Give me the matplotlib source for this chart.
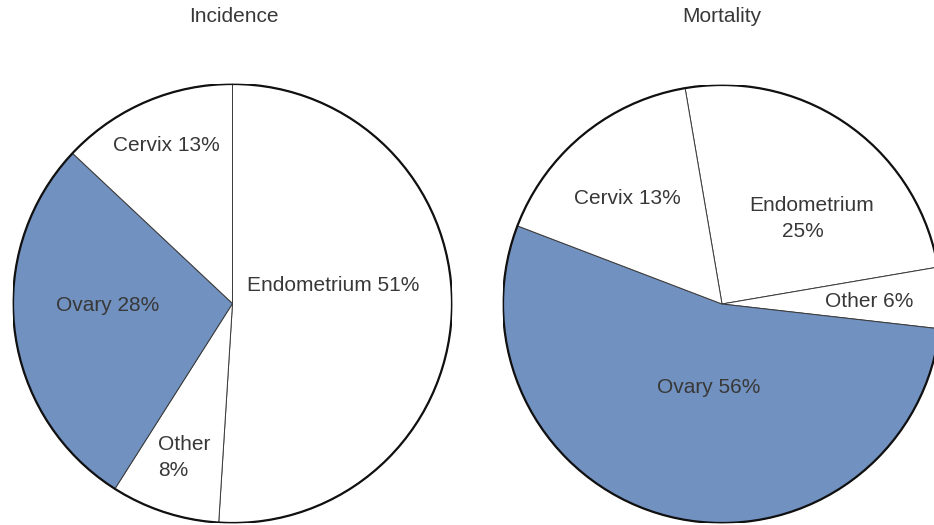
import matplotlib
matplotlib.use('Agg')
import matplotlib.pyplot as plt
from matplotlib.patches import Circle

# slice order: Endometrium, Other, Ovary, Cervix (clockwise from the first boundary)
inc_names = ['Endometrium', 'Other', 'Ovary', 'Cervix']
inc_pct = [51, 8, 28, 13]

mort_names = ['Endometrium', 'Other', 'Ovary', 'Cervix']
mort_pct = [25, 6, 56, 13]
# the drawn wedges in the source are not exactly the stated percents
mort_drawn = [25, 4.5, 54, 16.5]

BLUE = '#7191c0'
TEXT = '#383838'
W, H = 934, 525

plt.rcParams['font.family'] = ['Liberation Sans', 'DejaVu Sans']

fig = plt.figure(figsize=(W / 100, H / 100), dpi=100)


def _pie_axes(cx, cy, r):
	# place a square axes so the unit circle sits at pixel (cx, cy) with radius r
	ax = fig.add_axes([(cx - r) / W, (H - cy - r) / H, 2 * r / W, 2 * r / H])
	return ax


def _pie(ax, names, values, startangle):
	colors = [BLUE if n == 'Ovary' else 'white' for n in names]
	ax.pie(values, colors=colors, startangle=startangle, counterclock=False,
		radius=1, center=(0, 0), frame=True,
		wedgeprops=dict(edgecolor='#3a3a3a', linewidth=0.7))
	ax.set_xlim(-1, 1)
	ax.set_ylim(-1, 1)
	ax.axis('off')
	ax.add_patch(Circle((0, 0), 1, fill=False, edgecolor='#111111', linewidth=1.6))


def _label(ax, x, y, s, ha='center', **kw):
	ax.text(x, y, s, ha=ha, va='center', fontsize=15, color=TEXT, **kw)


# Incidence
ax1 = _pie_axes(232.5, 303.5, 219.5)
_pie(ax1, inc_names, inc_pct, 90)
_label(ax1, -0.30, 0.72, f'Cervix {inc_pct[3]}%')
_label(ax1, -0.57, -0.01, f'Ovary {inc_pct[2]}%')
_label(ax1, 0.46, 0.08, f'Endometrium {inc_pct[0]}%')
_label(ax1, -0.34, -0.70, f'Other\n{inc_pct[1]}%', ha='left', linespacing=1.45)

# Mortality
ax2 = _pie_axes(722, 304, 219)
_pie(ax2, mort_names, mort_drawn, 99.7)
_label(ax2, -0.43, 0.48, f'Cervix {mort_pct[3]}%')
_label(ax2, 0.41, 0.45, 'Endometrium')
_label(ax2, 0.37, 0.33, f'{mort_pct[0]}%')
_label(ax2, 0.67, 0.01, f'Other {mort_pct[1]}%')
_label(ax2, -0.06, -0.38, f'Ovary {mort_pct[2]}%')

fig.text(233.5 / W, 1 - 17 / H, 'Incidence', ha='center', va='center', fontsize=15, color=TEXT)
fig.text(722 / W, 1 - 17 / H, 'Mortality', ha='center', va='center', fontsize=15, color=TEXT)

fig.savefig('out.png', dpi=100)
